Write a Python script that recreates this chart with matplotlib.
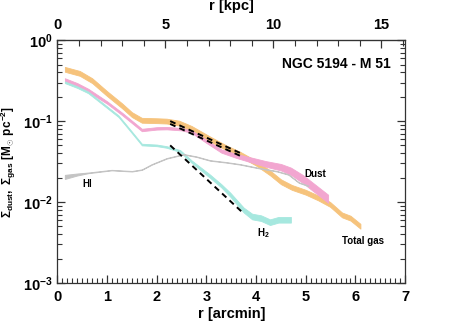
import numpy as np
import matplotlib
matplotlib.use("Agg")
import matplotlib.pyplot as plt
from matplotlib.ticker import FixedLocator, MultipleLocator, FuncFormatter, LogLocator, NullFormatter

plt.rcParams['font.family'] = ['Liberation Sans', 'DejaVu Sans']
plt.rcParams['font.weight'] = 'bold'
plt.rcParams['mathtext.fontset'] = 'custom'
plt.rcParams['mathtext.rm'] = 'Liberation Sans:bold'
plt.rcParams['mathtext.bf'] = 'Liberation Sans:bold'
plt.rcParams['mathtext.it'] = 'Liberation Sans:bold'

KPC_PER_ARCMIN = 2.30

# radial profiles, r in arcmin, log10 of surface density in Msun/pc^2
r_gas = [0.15, 0.45, 0.7, 1.0, 1.3, 1.5, 1.7, 2.0, 2.2, 2.45, 2.7, 3.07, 3.4, 3.68,
         4.0, 4.28, 4.5, 4.72, 5.0, 5.25, 5.49, 5.73, 5.9, 6.1]
log_gas = [-0.36, -0.41, -0.50, -0.66, -0.81, -0.92, -0.99, -0.995, -1.0, -1.025, -1.09,
           -1.22, -1.33, -1.41, -1.52, -1.64, -1.75, -1.82, -1.88, -1.95, -2.03, -2.16,
           -2.20, -2.30]
err_gas = [0.03] * 24

r_dust = [0.15, 0.4, 0.62, 1.0, 1.3, 1.7, 2.0, 2.2, 2.5, 2.7, 3.0, 3.3, 3.6, 3.9,
          4.2, 4.5, 4.7, 4.95, 5.2, 5.45]
log_dust = [-0.49, -0.55, -0.62, -0.77, -0.91, -1.11, -1.09, -1.087, -1.10, -1.13,
            -1.25, -1.37, -1.43, -1.48, -1.53, -1.57, -1.62, -1.72, -1.84, -1.96]
err_dust = [0.02, 0.02, 0.02, 0.015, 0.015, 0.015, 0.015, 0.015, 0.015, 0.015,
            0.02, 0.02, 0.025, 0.03, 0.035, 0.04, 0.045, 0.05, 0.05, 0.05]

r_h2 = [0.15, 0.4, 0.62, 0.9, 1.23, 1.5, 1.7, 2.0, 2.2, 2.47, 2.7, 3.07, 3.3, 3.48,
        3.75, 3.92, 4.1, 4.28, 4.45, 4.7]
log_h2 = [-0.52, -0.58, -0.645, -0.78, -0.94, -1.14, -1.29, -1.30, -1.32, -1.37,
          -1.50, -1.68, -1.80, -1.91, -2.10, -2.18, -2.20, -2.25, -2.22, -2.22]
err_h2 = [0.01, 0.01, 0.01, 0.01, 0.01, 0.01, 0.01, 0.01, 0.01, 0.012, 0.015, 0.02,
          0.02, 0.025, 0.03, 0.035, 0.035, 0.035, 0.035, 0.035]

r_hi = [0.15, 0.4, 0.62, 1.09, 1.5, 1.7, 1.9, 2.2, 2.54, 2.8, 3.07, 3.4, 3.68, 4.02,
        4.42, 4.65, 4.86, 5.05]
log_hi = [-1.69, -1.66, -1.64, -1.606, -1.62, -1.60, -1.535, -1.46, -1.41, -1.44,
          -1.486, -1.51, -1.535, -1.577, -1.62, -1.66, -1.76, -1.80]
err_hi = [0.025, 0.012, 0.004, 0.003, 0.003, 0.003, 0.003, 0.003, 0.003, 0.003,
          0.003, 0.003, 0.003, 0.003, 0.003, 0.003, 0.003, 0.003]

# exponential fits (start/end points)
fit_gas_r = [2.27, 3.70]
fit_gas_log = [-1.00, -1.40]
fit_gas2_log = [-1.035, -1.435]
fit_h2_r = [2.27, 3.71]
fit_h2_log = [-1.30, -2.12]


def band(ax, r, logv, err, color, z, lw=0.6):
    logv = np.array(logv)
    err = np.array(err)
    ax.fill_between(r, 10 ** (logv - err), 10 ** (logv + err), color=color, lw=lw,
                    edgecolor=color, zorder=z)


fig = plt.figure(figsize=(4.63, 3.27), dpi=100)
ax = fig.add_axes([0.124, 0.135, 0.751, 0.742])

band(ax, r_gas, log_gas, err_gas, '#f6c37c', 2)
band(ax, r_dust, log_dust, err_dust, '#f2a6d0', 3)
band(ax, r_h2, log_h2, err_h2, '#a6e8df', 3)
band(ax, r_hi, log_hi, err_hi, '#c4c4c4', 4, lw=0.7)

dash = dict(color='black', lw=1.4, dashes=(3, 2.2), zorder=5)
ax.plot(fit_gas_r, 10 ** np.array(fit_gas_log), **dash)
ax.plot(fit_gas_r, 10 ** np.array(fit_gas2_log), **dash)
ax.plot(fit_h2_r, 10 ** np.array(fit_h2_log), **dash)

ax.set_yscale('log')
ax.set_xlim(0, 7)
ax.set_ylim(1e-3, 1)

ax.xaxis.set_major_locator(MultipleLocator(1))
ax.xaxis.set_minor_locator(MultipleLocator(0.1))
ax.yaxis.set_major_locator(LogLocator(base=10, numticks=10))
ax.yaxis.set_minor_locator(LogLocator(base=10, subs=np.arange(2, 10), numticks=10))
ax.yaxis.set_minor_formatter(NullFormatter())
ax.yaxis.set_major_formatter(FuncFormatter(lambda v, p: r'$10^{%d}$' % round(np.log10(v))))

ax.tick_params(which='both', direction='in', top=False, right=True, colors='#333333',
               labelsize=10.5, labelcolor='black')
ax.tick_params(which='major', length=6, width=0.9)
ax.tick_params(which='minor', length=3.5, width=0.8)
ax.tick_params(axis='x', which='major', pad=5)
for s in ax.spines.values():
    s.set_color('#333333')
    s.set_linewidth(0.9)

ax.set_xlabel('r [arcmin]', fontsize=10.5, fontweight='bold', labelpad=2)
ax.set_ylabel(r'$\Sigma_{dust},\ \Sigma_{gas}\ [M_{\odot}\ pc^{-2}]$', fontsize=8.5)
ax.yaxis.set_label_coords(-0.112, 0.5)

top = ax.secondary_xaxis('top', functions=(lambda x: x * KPC_PER_ARCMIN,
                                           lambda x: x / KPC_PER_ARCMIN))
top.xaxis.set_major_locator(FixedLocator([0, 5, 10, 15]))
top.xaxis.set_minor_locator(MultipleLocator(1))
top.tick_params(which='both', direction='in', colors='#333333', labelsize=10.5,
                labelcolor='black')
top.tick_params(which='major', length=6, width=0.9, pad=6)
top.tick_params(which='minor', length=4, width=0.8)
top.set_xlabel('r [kpc]', fontsize=10.5, fontweight='bold', labelpad=6)
top.spines['top'].set_color('#333333')

ax.text(0.96, 0.93, 'NGC 5194 - M 51', transform=ax.transAxes, ha='right', va='top',
        fontsize=10, fontweight='bold')
ax.text(0.6, 0.0165, 'HI', fontsize=7, fontweight='bold', ha='center', va='center')
ax.text(5.2, 0.022, 'Dust', fontsize=7, fontweight='bold', ha='center', va='center')
ax.text(4.15, 0.0041, r'$\mathregular{H_2}$', fontsize=7, ha='center', va='center')
ax.text(6.16, 0.0033, 'Total gas', fontsize=7, fontweight='bold', ha='center', va='center')

fig.savefig('out.png', dpi=100)
